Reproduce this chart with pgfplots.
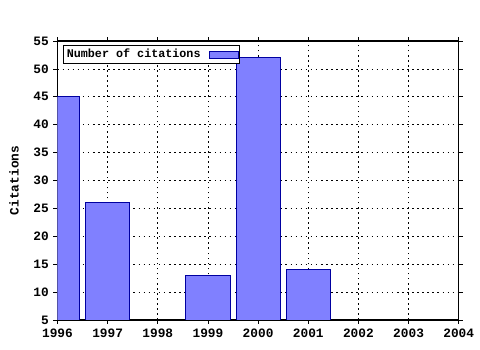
\documentclass[border=0pt]{standalone}
\usepackage{pgfplots}
\pgfplotsset{compat=1.18}
\usepackage{fontspec}
\setmainfont{Liberation Mono}
\definecolor{barfill}{HTML}{8080FF}
\definecolor{barline}{HTML}{0000A0}
\begin{document}
\begin{tikzpicture}
\begin{axis}[
  at={(43.1pt,22.5pt)}, anchor=south west,
  scale only axis, width=301pt, height=209.25pt,
  xmin=1996, xmax=2004, ymin=5, ymax=55,
  xtick={1996,...,2004}, ytick={5,10,...,55},
  minor x tick num=3,
  xticklabel style={/pgf/number format/1000 sep={}},
  /pgf/number format/assume math mode=true,
  tick label style={font=\fontsize{9.6}{11}\selectfont\bfseries},
  label style={font=\fontsize{9.6}{11}\selectfont\bfseries},
  tick align=outside, major tick length=3pt, minor tick length=1.5pt,
  tick style={black, line width=0.6pt},
  axis line style={line width=0.8pt},
  grid=major, major grid style={black, line width=0.6pt, dash pattern=on 1.2pt off 2.6pt},
  ylabel={Citations},
  ylabel style={at={(axis description cs:-0.108,0.5)}, anchor=center, rotate=0},
  legend style={at={(0.013,0.985)}, anchor=north west, draw=black, line width=0.6pt,
    font=\fontsize{8.8}{10}\selectfont\bfseries, inner sep=0.8pt,
    legend cell align=left},
  legend plot pos=right,
  ybar, bar width=0.88, bar shift=0pt,
  clip=true,
]
\addplot[fill=barfill, draw=barline, line width=0.6pt,
  legend image code/.code={\path (-29pt,0pt); \draw[fill=barfill,draw=barline,line width=0.6pt] (-25pt,-2.6pt) rectangle (-3pt,2.6pt);}] coordinates {
  (1996,45) (1997,26) (1999,13) (2000,52) (2001,14)
};
\addlegendentry{Number of citations}
\end{axis}
\path (0,0) (360pt,262.5pt);
\end{tikzpicture}
\end{document}
